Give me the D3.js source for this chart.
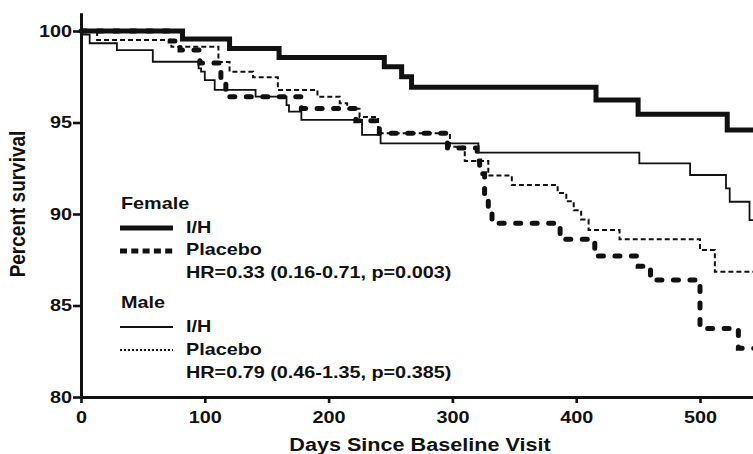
<!DOCTYPE html>
<html>
<head>
<meta charset="utf-8">
<script src="https://cdn.jsdelivr.net/npm/d3@7/dist/d3.min.js"></script>
<style>
  html, body { margin: 0; padding: 0; background: #fff; }
  svg { display: block; }
  text { font-family: "Liberation Sans", Arial, sans-serif; font-weight: bold; fill: #111; }
</style>
</head>
<body>
<svg id="chart" width="753" height="454"></svg>
<script>
// Kaplan-Meier steps: [day, percent surviving]
var femaleIH = [[0,100],[82,99.56],[120,99.05],[160,98.55],[245,98.05],[259,97.5],[267,96.92],
  [416,96.23],[450,95.45],[522,94.59]];
var femalePlacebo = [[0,100],[72,99.45],[80,98.96],[96,98.25],[113,97.4],[117,96.41],[178,95.77],
  [222,95.1],[241,94.41],[296,93.6],[320,92.9],[322,92.2],[326,91.1],[329,90.1],[332,89.49],
  [387,88.62],[415,87.7],[450,87.15],[460,86.39],[500,83.75],[531,82.66]];
var maleIH = [[0,100],[1,99.8],[7,99.33],[29,98.96],[58,98.32],[95,97.96],[97,97.78],[100,97.32],
  [108,96.78],[141,96.41],[166,95.95],[168,95.59],[178,95.14],[227,94.32],[242,93.86],[321,93.35],
  [451,92.77],[492,92.13],[521,91.4],[524,90.67],[540,89.67]];
var malePlacebo = [[0,100],[13,99.51],[73,99.14],[111,98.3],[120,97.78],[139,97.47],[159,96.78],
  [191,96.41],[209,96.05],[215,95.75],[225,95.3],[240,94.41],[298,93.68],[310,92.9],[329,92.1],
  [348,91.58],[385,91.15],[392,90.7],[398,90.2],[404,89.7],[410,89.13],[435,88.62],[500,88.03],
  [512,86.85]];
var followUpEnd = 560;

var xTicks = [0, 100, 200, 300, 400, 500];
var yTicks = [80, 85, 90, 95, 100];
var femaleHR = "HR=0.33 (0.16-0.71, p=0.003)";
var maleHR = "HR=0.79 (0.46-1.35, p=0.385)";

var svg = d3.select("#chart");
var x = d3.scaleLinear().domain([0, followUpEnd]).range([81, 81 + followUpEnd * 1.238]);
var y = d3.scaleLinear().domain([80, 101]).range([397, 397 - 21 * 18.3]);

// the picture is a bit wider than it is tall, so text gets stretched sideways
function widen(sel, k) {
  sel.each(function(){
    var w = this.getComputedTextLength();
    d3.select(this).attr("textLength", w * k).attr("lengthAdjust", "spacingAndGlyphs");
  });
}

var line = d3.line()
  .x(function(d){ return x(d[0]); })
  .y(function(d){ return y(d[1]); })
  .curve(d3.curveStepAfter);

function withEnd(arr){
  return arr.concat([[followUpEnd, arr[arr.length-1][1]]]);
}

var series = [
  {data: malePlacebo, width: 2, dash: "5,3", cap: "butt"},
  {data: maleIH, width: 1.8, dash: null, cap: "butt"},
  {data: femalePlacebo, width: 5, dash: "5,11.5", cap: "round"},
  {data: femaleIH, width: 5, dash: null, cap: "butt"}
];

svg.selectAll("path.curve")
  .data(series)
  .enter()
  .append("path")
  .attr("class", "curve")
  .attr("d", function(d){ return line(withEnd(d.data)); })
  .attr("fill", "none")
  .attr("stroke", "#111")
  .attr("stroke-width", function(d){ return d.width; })
  .attr("stroke-dasharray", function(d){ return d.dash; })
  .attr("stroke-linecap", function(d){ return d.cap; });

// axes
var yAxis = svg.append("g")
  .attr("transform", "translate(81,0)")
  .call(d3.axisLeft(y).tickValues(yTicks).tickSize(8).tickSizeOuter(0).tickPadding(1));
var xAxis = svg.append("g")
  .attr("transform", "translate(0,397)")
  .call(d3.axisBottom(x).tickValues(xTicks).tickSize(6).tickSizeOuter(0).tickPadding(8));

[yAxis, xAxis].forEach(function(g){
  g.select(".domain").attr("stroke", "#111").attr("stroke-width", 3);
  g.selectAll(".tick line").attr("stroke", "#111").attr("stroke-width", 2.6);
  g.selectAll(".tick text")
    .attr("fill", "#111")
    .style("font-size", "16.5px")
    .style("font-family", "'Liberation Sans', Arial, sans-serif")
    .style("font-weight", "bold")
    .call(widen, 1.2);
});

// axis titles
svg.append("text")
  .attr("x", 420).attr("y", 451)
  .attr("text-anchor", "middle")
  .style("font-size", "18px")
  .text("Days Since Baseline Visit")
  .call(widen, 1.2);

svg.append("text")
  .attr("transform", "translate(25,204) scale(1.2,1) rotate(-90)")
  .attr("text-anchor", "middle")
  .style("font-size", "19px")
  .text("Percent survival");

// legend
var legend = [
  {label: "Female", y: 209, head: true},
  {label: "I/H", y: 233, ly: 228, width: 5, dash: null},
  {label: "Placebo", y: 255, ly: 251, width: 5, dash: "7,4.3"},
  {label: femaleHR, y: 278},
  {label: "Male", y: 308, head: true},
  {label: "I/H", y: 332, ly: 327, width: 1.8, dash: null},
  {label: "Placebo", y: 355, ly: 350, width: 2, dash: "2,2"},
  {label: maleHR, y: 378}
];

var lg = svg.append("g");
lg.selectAll("text")
  .data(legend)
  .enter()
  .append("text")
  .attr("x", function(d){ return d.head ? 121 : 186; })
  .attr("y", function(d){ return d.y; })
  .style("font-size", "16.5px")
  .text(function(d){ return d.label; })
  .call(widen, 1.2);

lg.selectAll("line")
  .data(legend.filter(function(d){ return d.ly; }))
  .enter()
  .append("line")
  .attr("x1", 120).attr("x2", 173)
  .attr("y1", function(d){ return d.ly; })
  .attr("y2", function(d){ return d.ly; })
  .attr("stroke", "#111")
  .attr("stroke-width", function(d){ return d.width; })
  .attr("stroke-dasharray", function(d){ return d.dash; });
</script>
</body>
</html>
